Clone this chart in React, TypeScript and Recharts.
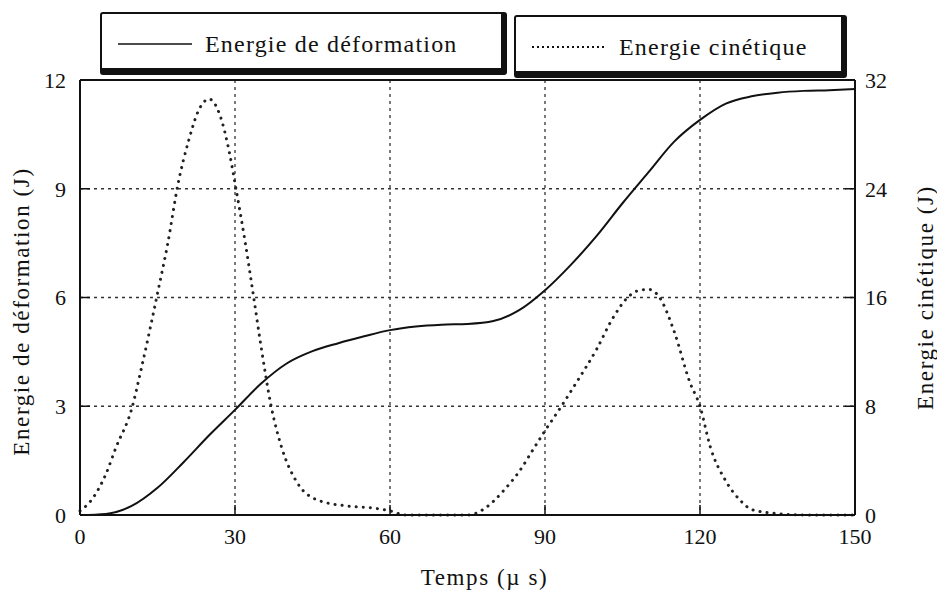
import { LineChart, Line, XAxis, YAxis, CartesianGrid, ReferenceLine, Label } from 'recharts';

const timeTicks = [0, 30, 60, 90, 120, 150];
const leftTicks = [0, 3, 6, 9, 12];
const rightTicks = [0, 8, 16, 24, 32];

// Energie de déformation (J), left axis
const timeDef = [0, 5, 10, 15, 20, 25, 30, 35, 40, 45, 50, 55, 60, 65, 70, 75, 80, 85, 90, 95, 100, 105, 110, 115, 120, 125, 130, 135, 140, 145, 150];
const energyDef = [0, 0.03, 0.25, 0.75, 1.45, 2.2, 2.9, 3.62, 4.18, 4.52, 4.74, 4.93, 5.1, 5.2, 5.25, 5.27, 5.35, 5.65, 6.2, 6.9, 7.7, 8.6, 9.45, 10.3, 10.9, 11.35, 11.55, 11.65, 11.7, 11.72, 11.75];

// Energie cinétique (J), right axis
const timeKin = [0, 2, 5, 7, 10, 12, 15, 17, 19, 21, 23, 25, 27, 29, 30, 32, 33.5, 35, 37, 39, 42, 46, 52, 57, 60, 63, 70, 75, 78, 80, 82, 85, 88, 90, 93, 96, 100, 103, 106, 108, 110, 112, 115, 118, 120, 122, 125, 128, 130, 135, 140, 145, 150];
const energyKin = [0.3, 1, 3, 5, 7.8, 11, 16.3, 20, 24.4, 27.5, 29.8, 30.6, 29.5, 26.5, 24.4, 20, 16.3, 12.5, 8, 5, 2.4, 1.1, 0.65, 0.5, 0.3, 0, 0, 0, 0.4, 1, 1.8, 3.2, 5, 6.2, 7.9, 9.7, 12.2, 14.4, 16.0, 16.5, 16.6, 16.1, 13.5, 9.8, 8, 5, 2.5, 1, 0.4, 0.1, 0, 0, 0];

const defData = timeDef.map((t, i) => ({ t, v: energyDef[i] }));
const kinData = timeKin.map((t, i) => ({ t, v: energyKin[i] }));

const FONT = 'Liberation Serif, Times New Roman, Times, DejaVu Serif, serif';
const tickStyle = { fill: '#111', fontSize: 22, fontFamily: FONT };

const LegendBox = ({ left, top, width, dashed, text }: { left: number; top: number; width: number; dashed: boolean; text: string }) => (
  <div
    style={{
      position: 'absolute',
      left,
      top,
      width,
      height: 63,
      paddingTop: 6,
      border: '2px solid #111',
      borderRightWidth: 6,
      borderBottomWidth: 7,
      borderRadius: 3,
      background: '#fff',
      display: 'flex',
      alignItems: 'center',
      boxSizing: 'border-box',
      fontFamily: FONT,
      fontSize: 24,
      letterSpacing: 1.2,
      color: '#111',
    }}
  >
    <svg width={76} height={20} style={{ marginLeft: 16, marginRight: 11 }}>
      <line
        x1={0}
        x2={74}
        y1={10}
        y2={10}
        stroke="#111"
        strokeWidth={dashed ? 2 : 1.6}
        strokeDasharray={dashed ? '2 3' : undefined}
      />
    </svg>
    <span>{text}</span>
  </div>
);

const titleContent = (text: string, side: 'left' | 'right' | 'bottom') => (props: any) => {
  const vb = props.viewBox || {};
  const style = { fontFamily: FONT, fontSize: 23, letterSpacing: 1.6, fill: '#111' };
  if (side === 'bottom') {
    const x = vb.x + vb.width / 2 + 17;
    return <text x={x} y={vb.y + 70} textAnchor="middle" style={style}>{text}</text>;
  }
  if (side === 'left') {
    const x = vb.x + 29;
    const y = vb.y + vb.height / 2 + 14;
    return <text x={x} y={y} textAnchor="middle" transform={`rotate(-90 ${x} ${y})`} style={style}>{text}</text>;
  }
  const x = vb.x + vb.width - 4;
  const y = vb.y + vb.height / 2;
  return <text x={x} y={y} textAnchor="middle" transform={`rotate(-90 ${x} ${y})`} style={style}>{text}</text>;
};

export default function App() {
  return (
    <div style={{ position: 'absolute', left: 0, top: 0, width: 937, height: 595, background: '#fff' }}>
      <LineChart width={937} height={595} margin={{ top: 80, right: 0, bottom: 0, left: 0 }}>
        <CartesianGrid yAxisId="left" stroke="#333" strokeDasharray="3 4" strokeWidth={1.3} />
        <XAxis
          type="number"
          dataKey="t"
          domain={[0, 150]}
          ticks={timeTicks}
          height={80}
          allowDuplicatedCategory={false}
          axisLine={{ stroke: '#111', strokeWidth: 2 }}
          tickLine={{ stroke: '#111', strokeWidth: 1.5 }}
          tickSize={-10}
          tickMargin={23}
          tick={tickStyle}
        >
          <Label content={titleContent('Temps (µ s)', 'bottom')} />
        </XAxis>
        <YAxis
          yAxisId="left"
          domain={[0, 12]}
          ticks={leftTicks}
          width={80}
          axisLine={{ stroke: '#111', strokeWidth: 2 }}
          tickLine={{ stroke: '#111', strokeWidth: 1.5 }}
          tickSize={-10}
          tickMargin={24}
          tick={tickStyle}
        >
          <Label content={titleContent('Energie de déformation (J)', 'left')} />
        </YAxis>
        <YAxis
          yAxisId="right"
          orientation="right"
          domain={[0, 32]}
          ticks={rightTicks}
          width={82}
          axisLine={{ stroke: '#111', strokeWidth: 2 }}
          tickLine={{ stroke: '#111', strokeWidth: 1.5 }}
          tickSize={-10}
          tickMargin={20}
          tick={tickStyle}
        >
          <Label content={titleContent('Energie cinétique (J)', 'right')} />
        </YAxis>
        <ReferenceLine yAxisId="left" y={12} stroke="#111" strokeWidth={2} />
        <Line
          yAxisId="left"
          data={defData}
          dataKey="v"
          type="monotone"
          stroke="#111"
          strokeWidth={2}
          dot={false}
          isAnimationActive={false}
        />
        <Line
          yAxisId="right"
          data={kinData}
          dataKey="v"
          type="monotone"
          stroke="#222"
          strokeWidth={3}
          strokeDasharray="0.1 7"
          strokeLinecap="round"
          dot={false}
          isAnimationActive={false}
        />
      </LineChart>
      <LegendBox left={100} top={12} width={407} dashed={false} text="Energie de déformation" />
      <LegendBox left={514} top={15} width={333} dashed={true} text="Energie cinétique" />
    </div>
  );
}
